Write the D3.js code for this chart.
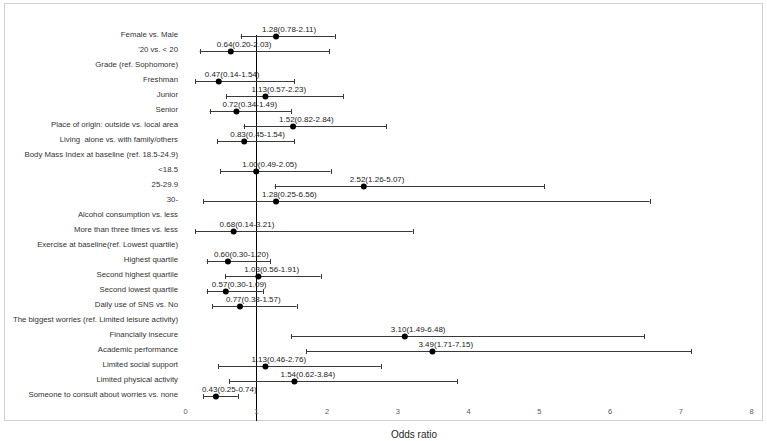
<!DOCTYPE html>
<html><head><meta charset="utf-8">
<script src="https://cdn.jsdelivr.net/npm/d3@7"></script>
<style>
body{margin:0;background:#fff;}
svg{display:block;}
text{white-space:pre;}
</style></head>
<body>
<svg id="chart" width="767" height="441"></svg>
<script>
const labels = [
  "Female vs. Male",
  "'20 vs. < 20",
  "Grade (ref. Sophomore)",
  "Freshman",
  "Junior",
  "Senior",
  "Place of origin: outside vs. local area",
  "Living  alone vs. with family/others",
  "Body Mass Index at baseline (ref. 18.5-24.9)",
  "<18.5",
  "25-29.9",
  "30-",
  "Alcohol consumption vs. less",
  "More than three times vs. less",
  "Exercise at baseline(ref. Lowest quartile)",
  "Highest quartile",
  "Second highest quartile",
  "Second lowest quartile",
  "Daily use of SNS vs. No",
  "The biggest worries (ref. Limited leisure activity)",
  "Financially insecure",
  "Academic performance",
  "Limited social support",
  "Limited physical activity",
  "Someone to consult about worries vs. none"
];
const oddsRatio = [1.28,0.64,null,0.47,1.13,0.72,1.52,0.83,null,1.00,2.52,1.28,null,0.68,null,0.60,1.03,0.57,0.77,null,3.10,3.49,1.13,1.54,0.43];
const lowerCI  = [0.78,0.20,null,0.14,0.57,0.34,0.82,0.45,null,0.49,1.26,0.25,null,0.14,null,0.30,0.56,0.30,0.38,null,1.49,1.71,0.46,0.62,0.25];
const upperCI  = [2.11,2.03,null,1.54,2.23,1.49,2.84,1.54,null,2.05,5.07,6.56,null,3.21,null,1.20,1.91,1.09,1.57,null,6.48,7.15,2.76,3.84,0.74];
const xTicks = [0,1,2,3,4,5,6,7,8];
const axisTitle = "Odds ratio";

const svg = d3.select("#chart");
const font = "'Liberation Sans', Arial, sans-serif";

const x = d3.scaleLinear().domain([0, 8]).range([185.5, 751.5]);
const y = d3.scaleLinear().domain([0, labels.length - 1]).range([36, 396]);

// frame
svg.append("rect").attr("x", 4.5).attr("y", 3.5).attr("width", 758).attr("height", 417)
  .attr("fill", "none").attr("stroke", "#d0d0d0").attr("stroke-width", 1);

// reference line at OR = 1
svg.append("line")
  .attr("x1", Math.round(x(1)) + 0.5).attr("x2", Math.round(x(1)) + 0.5)
  .attr("y1", y(0) - 1).attr("y2", 421)
  .attr("stroke", "#000").attr("stroke-width", 1);

// row labels
svg.append("g").selectAll("text").data(labels).join("text")
  .attr("x", 178).attr("y", (d, i) => y(i) - 2)
  .attr("dy", "0.35em").attr("text-anchor", "end")
  .attr("font-family", font).attr("font-size", 7.8).attr("fill", "#333")
  .text(d => d);

const rows = labels.map((l, i) => ({i, or: oddsRatio[i], lo: lowerCI[i], hi: upperCI[i]}))
  .filter(d => d.or !== null);

const g = svg.append("g");
// error bars
g.selectAll("line.ci").data(rows).join("line").attr("class", "ci")
  .attr("x1", d => x(d.lo)).attr("x2", d => x(d.hi))
  .attr("y1", d => Math.round(y(d.i)) + 0.5).attr("y2", d => Math.round(y(d.i)) + 0.5)
  .attr("stroke", "#3a3a3a").attr("stroke-width", 1);
["lo", "hi"].forEach(k => {
  g.selectAll("line.cap" + k).data(rows).join("line").attr("class", "cap" + k)
    .attr("x1", d => Math.round(x(d[k])) + 0.5).attr("x2", d => Math.round(x(d[k])) + 0.5)
    .attr("y1", d => Math.round(y(d.i)) - 2).attr("y2", d => Math.round(y(d.i)) + 3)
    .attr("stroke", "#3a3a3a").attr("stroke-width", 1);
});
// points
g.selectAll("circle").data(rows).join("circle")
  .attr("cx", d => x(d.or)).attr("cy", d => Math.round(y(d.i)) + 0.5)
  .attr("r", 3).attr("fill", "#000");
// value labels
g.selectAll("text").data(rows).join("text")
  .attr("x", d => x(d.or) - 14).attr("y", d => y(d.i) - 4.5)
  .attr("font-family", font).attr("font-size", 8).attr("fill", "#222")
  .text(d => `${d.or.toFixed(2)}(${d.lo.toFixed(2)}-${d.hi.toFixed(2)})`);

// x tick labels
svg.append("g").selectAll("text").data(xTicks).join("text")
  .attr("x", d => x(d)).attr("y", 411).attr("dy", "0.35em")
  .attr("text-anchor", "middle")
  .attr("font-family", font).attr("font-size", 7.5).attr("fill", "#595959")
  .text(d => d);

// axis title
svg.append("text").attr("x", 414).attr("y", 434).attr("dy", "0.35em")
  .attr("text-anchor", "middle")
  .attr("font-family", font).attr("font-size", 10).attr("fill", "#262626")
  .text(axisTitle);
</script>
</body></html>
